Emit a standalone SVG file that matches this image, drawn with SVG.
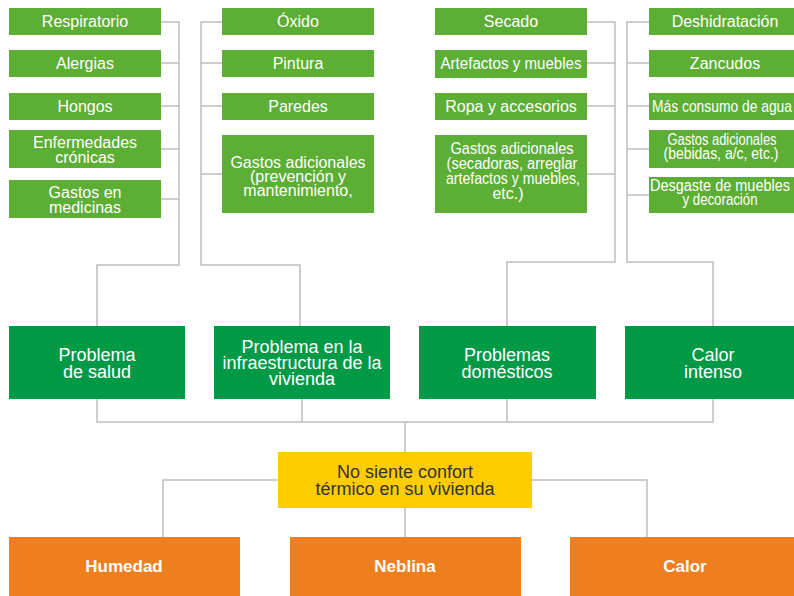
<svg xmlns="http://www.w3.org/2000/svg" width="794" height="596" viewBox="0 0 794 596">
<style>
.lg{fill:#5DAE34}
.dg{fill:#009A47}
.or{fill:#EE7E1E}
.ye{fill:#FFCC00}
.t{font-family:"Liberation Sans",Arial,sans-serif;fill:#fff;text-anchor:middle;font-size:16px}
.m{font-size:18px}
.b{font-size:17px;font-weight:bold}
.k{fill:#333;font-size:18px}
.c{fill:none;stroke:#BDBDBD;stroke-width:1.5}
</style>
<rect width="794" height="596" fill="#fff"/>
<g id="connectors" class="c">
<path d="M161 22H179V265H97V326"/>
<path d="M161 63H179M161 106H179M161 149H179M161 199H179"/>
<path d="M222 22H201V265H300V326"/>
<path d="M222 63H201M222 106H201M222 174H201"/>
<path d="M587 22H615V262H507V326"/>
<path d="M587 63H615M587 106H615M587 174H615"/>
<path d="M649 22H627V262H713V326"/>
<path d="M649 63H627M649 106H627M649 149H627M649 195H627"/>
<path d="M97 399V422H713V399M302 399V422M507 399V422"/>
<path d="M405 422V452M405 508V537"/>
<path d="M278 480H163V537M532 480H647V537"/>
</g>
<g id="respiratorio"><rect class="lg" x="9" y="8" width="152" height="27"/><text class="t" x="85" y="27">Respiratorio</text></g>
<g id="alergias"><rect class="lg" x="9" y="50" width="152" height="27"/><text class="t" x="85" y="69">Alergias</text></g>
<g id="hongos"><rect class="lg" x="9" y="93" width="152" height="27"/><text class="t" x="85" y="112">Hongos</text></g>
<g id="enfermedades"><rect class="lg" x="9" y="130" width="152" height="38"/><text class="t" x="85" y="148">Enfermedades</text><text class="t" x="85" y="163">crónicas</text></g>
<g id="medicinas"><rect class="lg" x="9" y="180" width="152" height="38"/><text class="t" x="85" y="198">Gastos en</text><text class="t" x="85" y="213">medicinas</text></g>
<g id="oxido"><rect class="lg" x="222" y="8" width="152" height="27"/><text class="t" x="298" y="27">Óxido</text></g>
<g id="pintura"><rect class="lg" x="222" y="50" width="152" height="27"/><text class="t" x="298" y="69">Pintura</text></g>
<g id="paredes"><rect class="lg" x="222" y="93" width="152" height="27"/><text class="t" x="298" y="112">Paredes</text></g>
<g id="gastos-infra"><rect class="lg" x="222" y="135" width="152" height="78"/><text class="t" x="298" y="168">Gastos adicionales</text><text class="t" x="298" y="182">(prevención y</text><text class="t" x="298" y="196">mantenimiento,</text></g>
<g id="secado"><rect class="lg" x="435" y="8" width="152" height="27"/><text class="t" x="511" y="27">Secado</text></g>
<g id="artefactos"><rect class="lg" x="435" y="50" width="152" height="28"/><text class="t" x="511" y="69" font-size="15" textLength="141" lengthAdjust="spacingAndGlyphs">Artefactos y muebles</text></g>
<g id="ropa"><rect class="lg" x="435" y="93" width="152" height="27"/><text class="t" x="511" y="112">Ropa y accesorios</text></g>
<g id="gastos-dom"><rect class="lg" x="435" y="135" width="152" height="78"/><text class="t" x="512" y="154" font-size="15" textLength="123" lengthAdjust="spacingAndGlyphs">Gastos adicionales</text><text class="t" x="512" y="169" font-size="15" textLength="131" lengthAdjust="spacingAndGlyphs">(secadoras, arreglar</text><text class="t" x="513" y="184" font-size="15" textLength="134" lengthAdjust="spacingAndGlyphs">artefactos y muebles,</text><text class="t" x="508" y="199" font-size="15">etc.)</text></g>
<g id="deshidratacion"><rect class="lg" x="649" y="8" width="152" height="27"/><text class="t" x="725" y="27">Deshidratación</text></g>
<g id="zancudos"><rect class="lg" x="649" y="50" width="152" height="27"/><text class="t" x="725" y="69">Zancudos</text></g>
<g id="agua"><rect class="lg" x="649" y="93" width="152" height="27"/><text class="t" x="722" y="112" font-size="15" textLength="140" lengthAdjust="spacingAndGlyphs">Más consumo de agua</text></g>
<g id="gastos-calor"><rect class="lg" x="649" y="130" width="152" height="38"/><text class="t" x="722" y="145" font-size="14" textLength="109" lengthAdjust="spacingAndGlyphs">Gastos adicionales</text><text class="t" x="721" y="159" font-size="14" textLength="115" lengthAdjust="spacingAndGlyphs">(bebidas, a/c, etc.)</text></g>
<g id="desgaste"><rect class="lg" x="649" y="177" width="152" height="36"/><text class="t" x="720" y="191" font-size="14" textLength="140" lengthAdjust="spacingAndGlyphs">Desgaste de muebles</text><text class="t" x="720" y="205" font-size="14" textLength="75" lengthAdjust="spacingAndGlyphs">y decoración</text></g>
<g id="salud"><rect class="dg" x="9" y="326" width="176" height="73"/><text class="t m" x="97" y="361">Problema</text><text class="t m" x="97" y="378">de salud</text></g>
<g id="infraestructura"><rect class="dg" x="214" y="326" width="176" height="73"/><text class="t m" x="302" y="353">Problema en la</text><text class="t m" x="302" y="369">infraestructura de la</text><text class="t m" x="302" y="385">vivienda</text></g>
<g id="domesticos"><rect class="dg" x="419" y="326" width="177" height="73"/><text class="t m" x="507" y="361">Problemas</text><text class="t m" x="507" y="378">domésticos</text></g>
<g id="calor-intenso"><rect class="dg" x="625" y="326" width="176" height="73"/><text class="t m" x="713" y="361">Calor</text><text class="t m" x="713" y="378">intenso</text></g>
<g id="confort"><rect class="ye" x="278" y="452" width="254" height="56"/><text class="t k" x="405" y="478">No siente confort</text><text class="t k" x="405" y="495">térmico en su vivienda</text></g>
<g id="humedad"><rect class="or" x="9" y="537" width="231" height="62"/><text class="t b" x="124" y="572">Humedad</text></g>
<g id="neblina"><rect class="or" x="290" y="537" width="231" height="62"/><text class="t b" x="405" y="572">Neblina</text></g>
<g id="calor"><rect class="or" x="570" y="537" width="231" height="62"/><text class="t b" x="685" y="572">Calor</text></g>
</svg>
